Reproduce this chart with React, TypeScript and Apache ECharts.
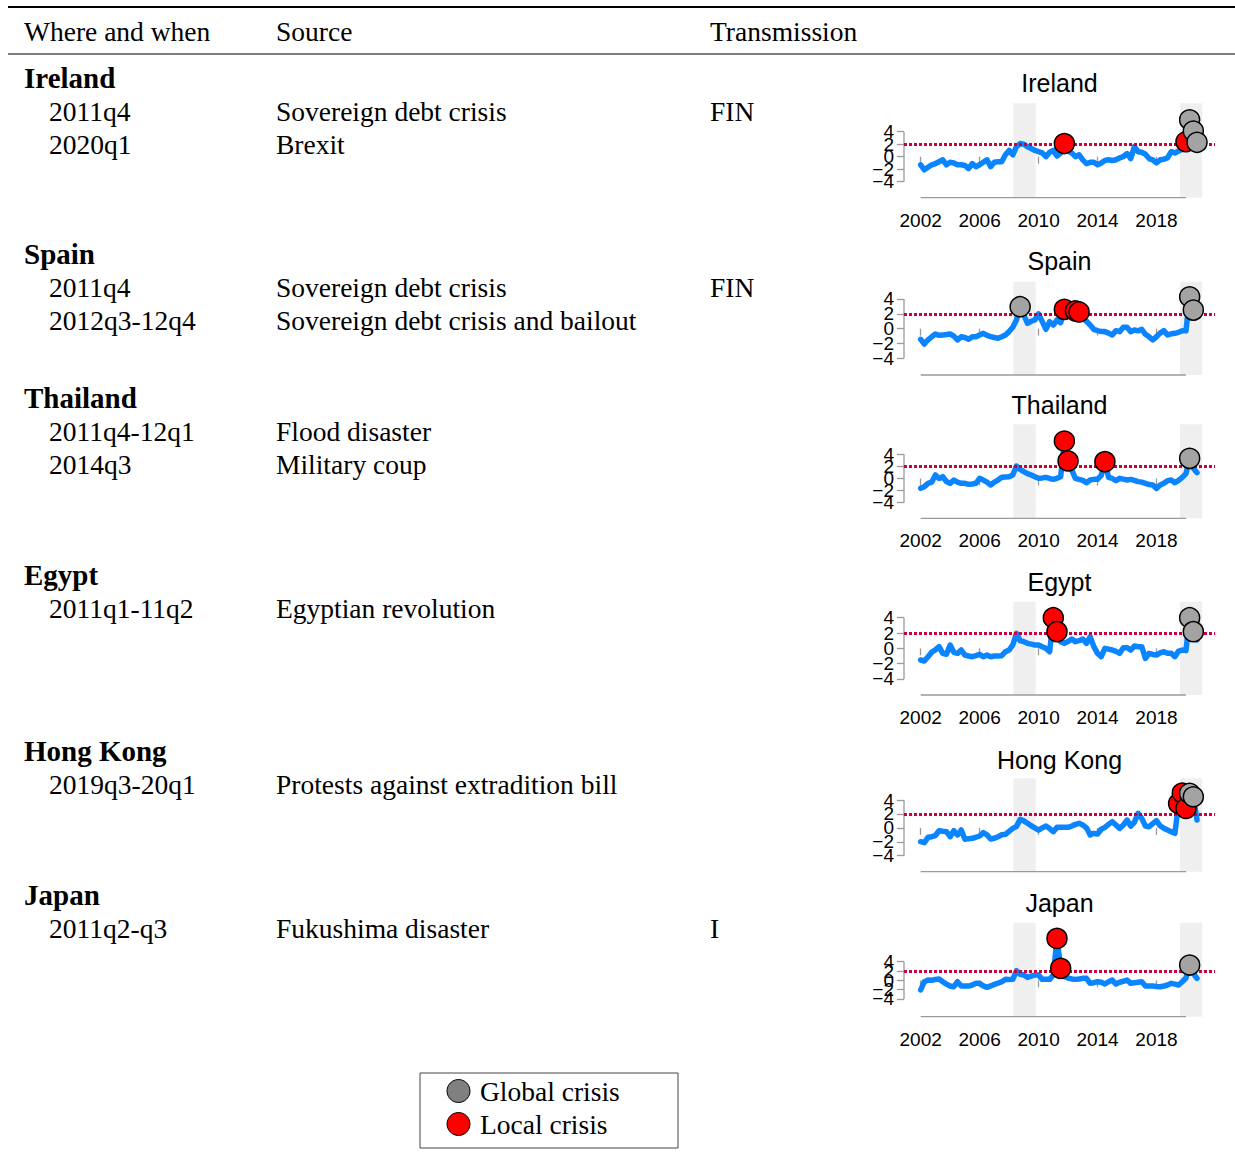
import React, { useEffect, useRef } from "react";
import * as echarts from "echarts";

// Quarterly index, 2002q1 .. 2020q4
const QUARTERS: string[] = [];
for (let y = 2002; y <= 2020; y++) for (let q = 1; q <= 4; q++) QUARTERS.push(`${y}q${q}`);
const quarterToYear = (q: string) => Number(q.slice(0, 4)) + (Number(q.slice(5)) - 1) / 4;

// Stress index per country (one value per quarter)
const IRELAND = [
  -1.3, -2.1, -1.7, -1.3, -1.1, -0.8, -0.5, -1.3, -0.9, -1.0, -1.3, -1.3,
  -1.4, -1.9, -1.1, -1.6, -1.3, -0.9, -0.5, -1.6, -0.9, -0.8, -0.8, 0.3,
  1.0, 0.3, 1.6, 2.1, 2.0, 1.6, 1.3, 1.0, 0.8, 0.6, 0.0, 0.7,
  1.0, 0.1, 0.6, 2.1, 0.9, 0.6, 0.0, 0.3, -0.5, -1.1, -0.9, -0.9,
  -1.3, -1.0, -0.6, -0.5, -0.6, -0.5, -0.2, 0.0, 0.5, -0.3, 1.6, 0.8,
  0.7, 0.4, -0.3, -0.5, -1.0, -0.5, -0.4, -0.2, 0.8, 0.6, 0.9, 1.2,
  2.4, 5.9, 4.1, 2.3,
];
const SPAIN = [
  -1.44, -2.07, -1.5, -1.1, -0.72, -0.9, -0.85, -0.8, -0.72, -1.0, -1.53, -1.1,
  -1.2, -1.44, -1.1, -1.08, -0.85, -0.63, -0.9, -1.08, -1.2, -1.3, -1.1, -0.85,
  -0.4, 0.2, 1.17, 2.96, 1.84, 0.72, 1.0, 1.17, 1.98, 0.94, -0.09, 0.94,
  0.49, 1.17, 0.8, 2.6, 2.3, 2.2, 2.4, 2.25, 1.39, 1.0, 0.49, -0.1,
  -0.27, -0.4, -0.4, -0.6, -0.85, -0.27, -0.4, 0.18, 0.18, -0.4, -0.18, -0.3,
  -0.09, -0.76, -1.1, -1.53, -1.08, -0.6, -0.27, -0.85, -0.7, -0.63, -0.5, -0.27,
  -0.3, 4.3, 2.5, 2.0,
];
const THAILAND = [
  -1.63, -1.35, -0.8, -0.6, 0.58, 0.0, 0.3, -0.5, -0.8, -0.25, -0.6, -0.8,
  -0.8, -0.96, -0.9, -0.8, 0.03, -0.25, -0.6, -1.07, -0.6, -0.25, 0.19, 0.25,
  0.3, 0.58, 2.07, 1.5, 1.13, 0.8, 0.58, 0.3, 0.03, 0.1, 0.19, 0.0,
  -0.14, 0.03, 0.3, 6.2, 2.9, 1.4, 0.03, -0.14, -0.3, -0.69, -0.25, -0.14,
  -0.14, 0.5, 2.78, 0.19, 0.0, -0.36, 0.03, -0.1, -0.25, -0.14, -0.3, -0.52,
  -0.6, -0.8, -1.0, -1.07, -1.63, -1.07, -0.8, -0.36, -0.25, -0.69, -0.3, 0.19,
  0.8, 3.33, 1.68, 0.96,
];
const EGYPT = [
  -1.52, -1.65, -1.09, -0.5, -0.2, 0.22, -0.65, -0.78, 0.44, -0.52, -0.65, -0.22,
  -0.87, -1.0, -1.09, -0.95, -0.78, -1.09, -0.87, -1.09, -1.0, -1.0, -0.96, -0.44,
  -0.22, 0.44, 1.96, 1.0, 0.87, 0.65, 0.55, 0.44, 0.44, 0.2, 0.0, -0.44,
  4.0, 2.18, 0.87, 0.65, 0.9, 1.22, 0.87, 1.0, 1.22, 0.65, 1.52, 0.22,
  -0.65, -1.09, 0.0, -0.1, -0.22, -0.4, -0.65, 0.09, 0.09, -0.22, 0.3, 0.22,
  0.22, -1.3, -0.65, -0.8, -0.87, -0.6, -0.44, -0.65, -0.65, -1.09, -0.35, -0.22,
  -0.3, 4.0, 2.18, 1.09,
];
const HONG_KONG = [
  -1.99, -2.13, -1.36, -1.27, -1.1, -0.41, -0.5, -0.55, -1.27, -0.41, -1.03, -0.31,
  -1.65, -1.55, -1.51, -1.35, -1.17, -0.69, -1.0, -1.6, -1.5, -1.27, -1.0, -0.93,
  -0.5, -0.07, 0.2, 1.22, 1.0, 0.65, 0.3, 0.0, -0.31, 0.0, 0.26, -0.1,
  -0.55, 0.07, 0.07, 0.07, 0.07, 0.26, 0.5, 0.65, 0.41, 0.0, -1.03, -0.79,
  -0.89, -0.2, 0.07, 0.5, 0.89, 0.4, -0.07, 0.41, 1.12, 0.26, 0.8, 2.08,
  1.36, 0.26, 0.17, 0.6, 1.03, 0.3, -0.07, -0.3, -0.55, -0.79, 3.5, 5.0,
  2.8, 4.96, 4.47, 1.12,
];
const JAPAN = [
  -2.07, -0.29, 0.07, 0.0, 0.2, 0.29, -0.29, -0.8, -1.22, -1.36, -0.29, -1.22,
  -1.22, -1.22, -1.0, -0.64, -0.64, -1.2, -1.5, -1.2, -0.86, -0.6, -0.29, 0.21,
  0.2, 0.21, 2.07, 1.3, 1.14, 0.64, 0.9, 1.14, 1.14, 0.21, 0.21, 0.21,
  1.14, 9.0, 2.58, 0.79, 0.5, 0.3, 0.21, 0.3, 0.43, 0.43, -0.64, -0.5,
  -0.29, -0.4, -0.79, -0.3, 0.07, -0.79, -0.4, -0.2, 0.07, -0.64, -0.5, -0.4,
  -0.29, -1.22, -1.22, -1.22, -1.3, -1.36, -1.22, -1.0, -0.64, -0.8, -1.0, -0.29,
  0.5, 3.29, 1.5, 0.43,
];

// Crisis episodes flagged on each panel
const IRELAND_LOCAL = ["2011q4", "2020q1"];
const IRELAND_GLOBAL = ["2020q2", "2020q3", "2020q4"];
const SPAIN_LOCAL = ["2011q4", "2012q3", "2012q4"];
const SPAIN_GLOBAL = ["2008q4", "2020q2", "2020q3"];
const THAILAND_LOCAL = ["2011q4", "2012q1", "2014q3"];
const THAILAND_GLOBAL = ["2020q2"];
const EGYPT_LOCAL = ["2011q1", "2011q2"];
const EGYPT_GLOBAL = ["2020q2", "2020q3"];
const HONG_KONG_LOCAL = ["2019q3", "2019q4", "2020q1"];
const HONG_KONG_GLOBAL = ["2020q2", "2020q3"];
const JAPAN_LOCAL = ["2011q2", "2011q3"];
const JAPAN_GLOBAL = ["2020q2"];

// Global crisis windows (shaded), threshold and ticks
const GLOBAL_BANDS = [[2008.3, 2009.8], [2019.6, 2021.1]];
const THRESHOLD = 1.96;
const X_TICKS = [2002, 2006, 2010, 2014, 2018];
const X_AXIS_SPAN = [2002, 2020];
const Y_TICKS = [-4, -2, 0, 2, 4];

// Table text
const HEADERS = ["Where and when", "Source", "Transmission"];
const TABLE = [
  { country: "Ireland", rows: [["2011q4", "Sovereign debt crisis", "FIN"], ["2020q1", "Brexit", ""]] },
  { country: "Spain", rows: [["2011q4", "Sovereign debt crisis", "FIN"], ["2012q3-12q4", "Sovereign debt crisis and bailout", ""]] },
  { country: "Thailand", rows: [["2011q4-12q1", "Flood disaster", ""], ["2014q3", "Military coup", ""]] },
  { country: "Egypt", rows: [["2011q1-11q2", "Egyptian revolution", ""]] },
  { country: "Hong Kong", rows: [["2019q3-20q1", "Protests against extradition bill", ""]] },
  { country: "Japan", rows: [["2011q2-q3", "Fukushima disaster", "I"]] },
];

const PANELS = [
  { name: "Ireland", values: IRELAND, local: IRELAND_LOCAL, global: IRELAND_GLOBAL },
  { name: "Spain", values: SPAIN, local: SPAIN_LOCAL, global: SPAIN_GLOBAL },
  { name: "Thailand", values: THAILAND, local: THAILAND_LOCAL, global: THAILAND_GLOBAL },
  { name: "Egypt", values: EGYPT, local: EGYPT_LOCAL, global: EGYPT_GLOBAL },
  { name: "Hong Kong", values: HONG_KONG, local: HONG_KONG_LOCAL, global: HONG_KONG_GLOBAL },
  { name: "Japan", values: JAPAN, local: JAPAN_LOCAL, global: JAPAN_GLOBAL },
];

// Panel placement
const PANEL_LAYOUT = [
  { top: 103.3, bottom: 197.7, yMin: -6.56, yMax: 8.54, titleY: 83.3, rowY: 78, xLabels: true },
  { top: 281.7, bottom: 375, yMin: -6.25, yMax: 6.33, titleY: 260.7, rowY: 254, xLabels: false },
  { top: 424.3, bottom: 518.3, yMin: -6.58, yMax: 8.96, titleY: 405, rowY: 398, xLabels: true },
  { top: 601.7, bottom: 695, yMin: -6.09, yMax: 6.09, titleY: 581.7, rowY: 575, xLabels: true },
  { top: 778.3, bottom: 871.7, yMin: -6.3, yMax: 7.12, titleY: 760, rowY: 751, xLabels: false },
  { top: 922.7, bottom: 1016.7, yMin: -7.8, yMax: 12.37, titleY: 903.3, rowY: 895, xLabels: true },
];
const PLOT_LEFT = 904;
const PLOT_WIDTH = 311;
const X_MIN = 2000.87;
const X_MAX = 2021.97;
const ROW_STEP = 33;

const SERIF = "'Liberation Serif', 'Times New Roman', serif";
const SANS = "'Liberation Sans', Arial, Helvetica, sans-serif";
const BLUE = "#0a84ff";
const RED = "#ff0000";
const GREY = "#a3a3a3";
const AXIS_GREY = "#9a9a9a";

// One y axis per tick: the labels sit closer than their height, and a single
// axis would drop the ones that collide.
function yAxisFor(i: number, L: any, tick: number) {
  return {
    gridIndex: i, type: "value", min: L.yMin, max: L.yMax, position: "left", offset: 0,
    axisLine: { show: false }, splitLine: { show: false },
    axisTick: { show: true, customValues: [tick], length: 7, lineStyle: { color: AXIS_GREY, width: 1.3 } },
    axisLabel: {
      show: true, customValues: [tick], margin: 10, fontSize: 19, color: "#000", fontFamily: SANS,
      hideOverlap: false, showMinLabel: true, showMaxLabel: true,
      formatter: (v: number) => String(v).replace("-", "\u2212"),
    },
  };
}

function buildOption() {
  const grid: any[] = [];
  const xAxis: any[] = [];
  const yAxis: any[] = [];
  const series: any[] = [];
  const graphic: any[] = [];

  PANELS.forEach((panel, i) => {
    const L = PANEL_LAYOUT[i];
    grid.push({ left: PLOT_LEFT, width: PLOT_WIDTH, top: L.top, height: L.bottom - L.top });
    xAxis.push({
      gridIndex: i, type: "value", min: X_MIN, max: X_MAX,
      axisLine: { show: false }, splitLine: { show: false },
      axisTick: { show: true, customValues: X_TICKS, length: 7, lineStyle: { color: AXIS_GREY, width: 1.3 } },
      axisLabel: {
        show: L.xLabels, customValues: X_TICKS, margin: 13, fontSize: 19, color: "#000", fontFamily: SANS,
        hideOverlap: false, formatter: (v: number) => String(v),
      },
    });
    const yMain = yAxis.length;
    Y_TICKS.forEach((t) => yAxis.push(yAxisFor(i, L, t)));

    const idx = (q: string) => QUARTERS.indexOf(q);
    const point = (q: string) => [quarterToYear(q), panel.values[idx(q)]];

    // x-axis line with shaded global windows and the threshold line
    series.push({
      type: "line", xAxisIndex: i, yAxisIndex: yMain, silent: true, clip: false, symbol: "none", z: 2,
      data: [[X_AXIS_SPAN[0], L.yMin], [X_AXIS_SPAN[1], L.yMin]],
      lineStyle: { color: AXIS_GREY, width: 1.3 },
      markArea: {
        silent: true, itemStyle: { color: "#efefef" },
        data: GLOBAL_BANDS.map((b) => [{ xAxis: b[0] }, { xAxis: b[1] }]),
      },
      markLine: {
        silent: true, symbol: ["none", "none"], label: { show: false },
        lineStyle: { color: "#c8003c", type: [3, 2], width: 3 },
        data: [{ yAxis: THRESHOLD }],
      },
    });
    // y-axis line from -4 to 4
    series.push({
      type: "line", xAxisIndex: i, yAxisIndex: yMain, silent: true, clip: false, symbol: "none", z: 2,
      data: [[X_MIN, Y_TICKS[0]], [X_MIN, Y_TICKS[Y_TICKS.length - 1]]],
      lineStyle: { color: AXIS_GREY, width: 1.3 },
    });
    series.push({
      type: "line", xAxisIndex: i, yAxisIndex: yMain, symbol: "none", z: 3,
      data: QUARTERS.map((q, k) => [quarterToYear(q), panel.values[k]]),
      lineStyle: { color: BLUE, width: 5.5, join: "round", cap: "round" },
    });
    series.push({
      name: "Local crisis", type: "scatter", xAxisIndex: i, yAxisIndex: yMain, z: 6,
      symbol: "circle", symbolSize: 20,
      itemStyle: { color: RED, borderColor: "#000", borderWidth: 1.5, opacity: 1 },
      data: panel.local.map(point),
    });
    series.push({
      name: "Global crisis", type: "scatter", xAxisIndex: i, yAxisIndex: yMain, z: 7,
      symbol: "circle", symbolSize: 20,
      itemStyle: { color: GREY, borderColor: "#000", borderWidth: 1.5, opacity: 1 },
      data: panel.global.map(point),
    });

    graphic.push({
      type: "text", x: PLOT_LEFT + PLOT_WIDTH / 2, y: L.titleY,
      style: { text: panel.name, fontSize: 25, fontFamily: SANS, fill: "#000", align: "center", verticalAlign: "middle" },
    });
  });

  // Table rules
  graphic.push({ type: "line", shape: { x1: 8, y1: 7, x2: 1235, y2: 7 }, style: { stroke: "#000", lineWidth: 2 } });
  graphic.push({ type: "line", shape: { x1: 8, y1: 54, x2: 1235, y2: 54 }, style: { stroke: "#000", lineWidth: 1.2 } });

  const colX = [24, 276, 710];
  HEADERS.forEach((h, c) => {
    graphic.push({
      type: "text", x: colX[c], y: 31,
      style: { text: h, fontSize: 27.5, fontFamily: SERIF, fill: "#000", verticalAlign: "middle" },
    });
  });
  TABLE.forEach((block, i) => {
    const y0 = PANEL_LAYOUT[i].rowY;
    graphic.push({
      type: "text", x: 24, y: y0,
      style: { text: block.country, fontSize: 29, fontWeight: "bold", fontFamily: SERIF, fill: "#000", verticalAlign: "middle" },
    });
    block.rows.forEach((r, k) => {
      const y = y0 + ROW_STEP * (k + 1);
      [49, 276, 710].forEach((x, c) => {
        if (!r[c]) return;
        graphic.push({
          type: "text", x, y,
          style: { text: r[c], fontSize: 27.5, fontFamily: SERIF, fill: "#000", verticalAlign: "middle" },
        });
      });
    });
  });

  // Legend frame
  graphic.push({
    type: "rect", shape: { x: 420, y: 1073, width: 258, height: 75 },
    style: { fill: "none", stroke: "#444", lineWidth: 1 },
  });

  return {
    animation: false,
    backgroundColor: "#ffffff",
    grid, xAxis, yAxis, series, graphic,
    legend: {
      orient: "vertical", left: 446.5, top: 1077, itemWidth: 33, itemHeight: 23, itemGap: 5,
      padding: 0, selectedMode: false,
      textStyle: { fontSize: 27.5, lineHeight: 28, fontFamily: SERIF, color: "#000" },
      data: [
        { name: "Global crisis", icon: "circle", itemStyle: { color: "#808080", borderColor: "#000", borderWidth: 1 } },
        { name: "Local crisis", icon: "circle", itemStyle: { color: RED, borderColor: "#000", borderWidth: 1 } },
      ],
    },
  };
}

export default function App() {
  const ref = useRef<HTMLDivElement>(null);
  useEffect(() => {
    if (!ref.current) return;
    const chart = echarts.init(ref.current, undefined, { renderer: "svg" });
    chart.setOption(buildOption() as any);
    return () => chart.dispose();
  }, []);
  return (
    <div
      ref={ref}
      style={{ position: "absolute", left: 0, top: 0, width: 1235, height: 1167, background: "#fff" }}
    />
  );
}
